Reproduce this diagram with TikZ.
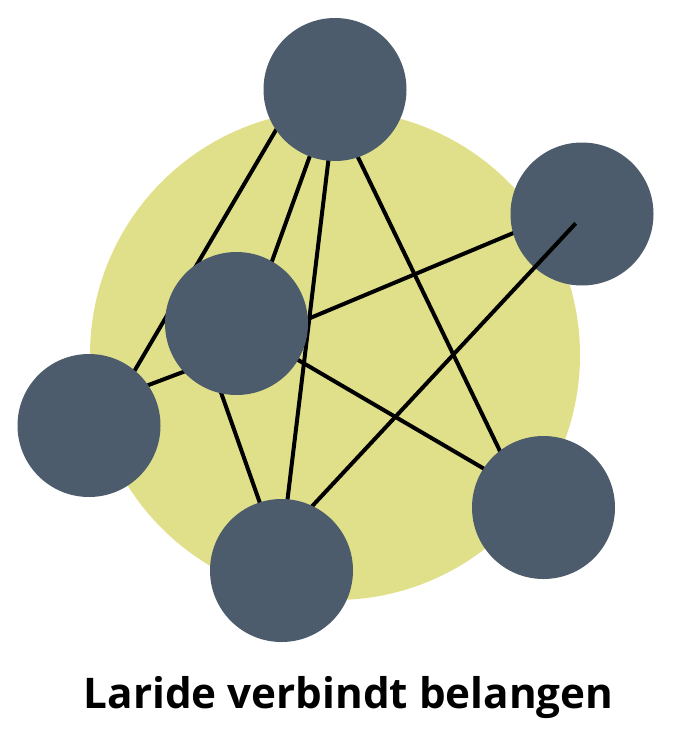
\documentclass[tikz,border=0pt]{standalone}
\usepackage{fontspec}
\setmainfont{Open Sans}
\definecolor{hubcol}{RGB}{224,224,138}
\definecolor{slate}{RGB}{76,92,108}
\begin{document}
\begin{tikzpicture}[x=1pt,y=-1pt,
  party/.style={circle,fill=slate,minimum size=143pt,inner sep=0pt},
  link/.style={line width=4pt,black}]
\useasboundingbox (0,0) rectangle (687,750);
\node[circle,fill=hubcol,minimum size=490pt,inner sep=0pt] (hub) at (335,355) {};
% connector end points (hidden inside the circles)
\coordinate (a1) at (293.6,100);  \coordinate (a2) at (111.5,410);
\coordinate (b1) at (334,89);     \coordinate (b2) at (258,300);
\coordinate (c1) at (337,89);     \coordinate (c2) at (279,570);
\coordinate (d1) at (325,89);     \coordinate (d2) at (527,507);
\coordinate (e1) at (260,339);    \coordinate (e2) at (560,213.5);
\coordinate (f1) at (575.7,223.3);\coordinate (f2) at (262,560);
\coordinate (g1) at (240,326);    \coordinate (g2) at (540,501.5);
\coordinate (h1) at (199,330);    \coordinate (h2) at (280,560);
\coordinate (i1) at (89,407.5);   \coordinate (i2) at (236,352);
\draw[link] (a1) -- (a2);
\draw[link] (b1) -- (b2);
\draw[link] (c1) -- (c2);
\draw[link] (d1) -- (d2);
\draw[link] (e1) -- (e2);
\draw[link] (g1) -- (g2);
\draw[link] (h1) -- (h2);
\draw[link] (i1) -- (i2);
\node[party] (right) at (582,214) {};
\draw[link] (f1) -- (f2);
\node[party] (top) at (335,89.5) {};
\node[party] (middle) at (236.5,323.5) {};
\node[party] (left) at (89,425.5) {};
\node[party] (bottom) at (281.5,570.5) {};
\node[party] (bright) at (543.5,507.5) {};
\node[font=\bfseries\fontsize{42.2}{46}\selectfont,anchor=base,inner sep=0pt] (title) at (348.5,708) {Laride verbindt belangen};
\end{tikzpicture}
\end{document}
